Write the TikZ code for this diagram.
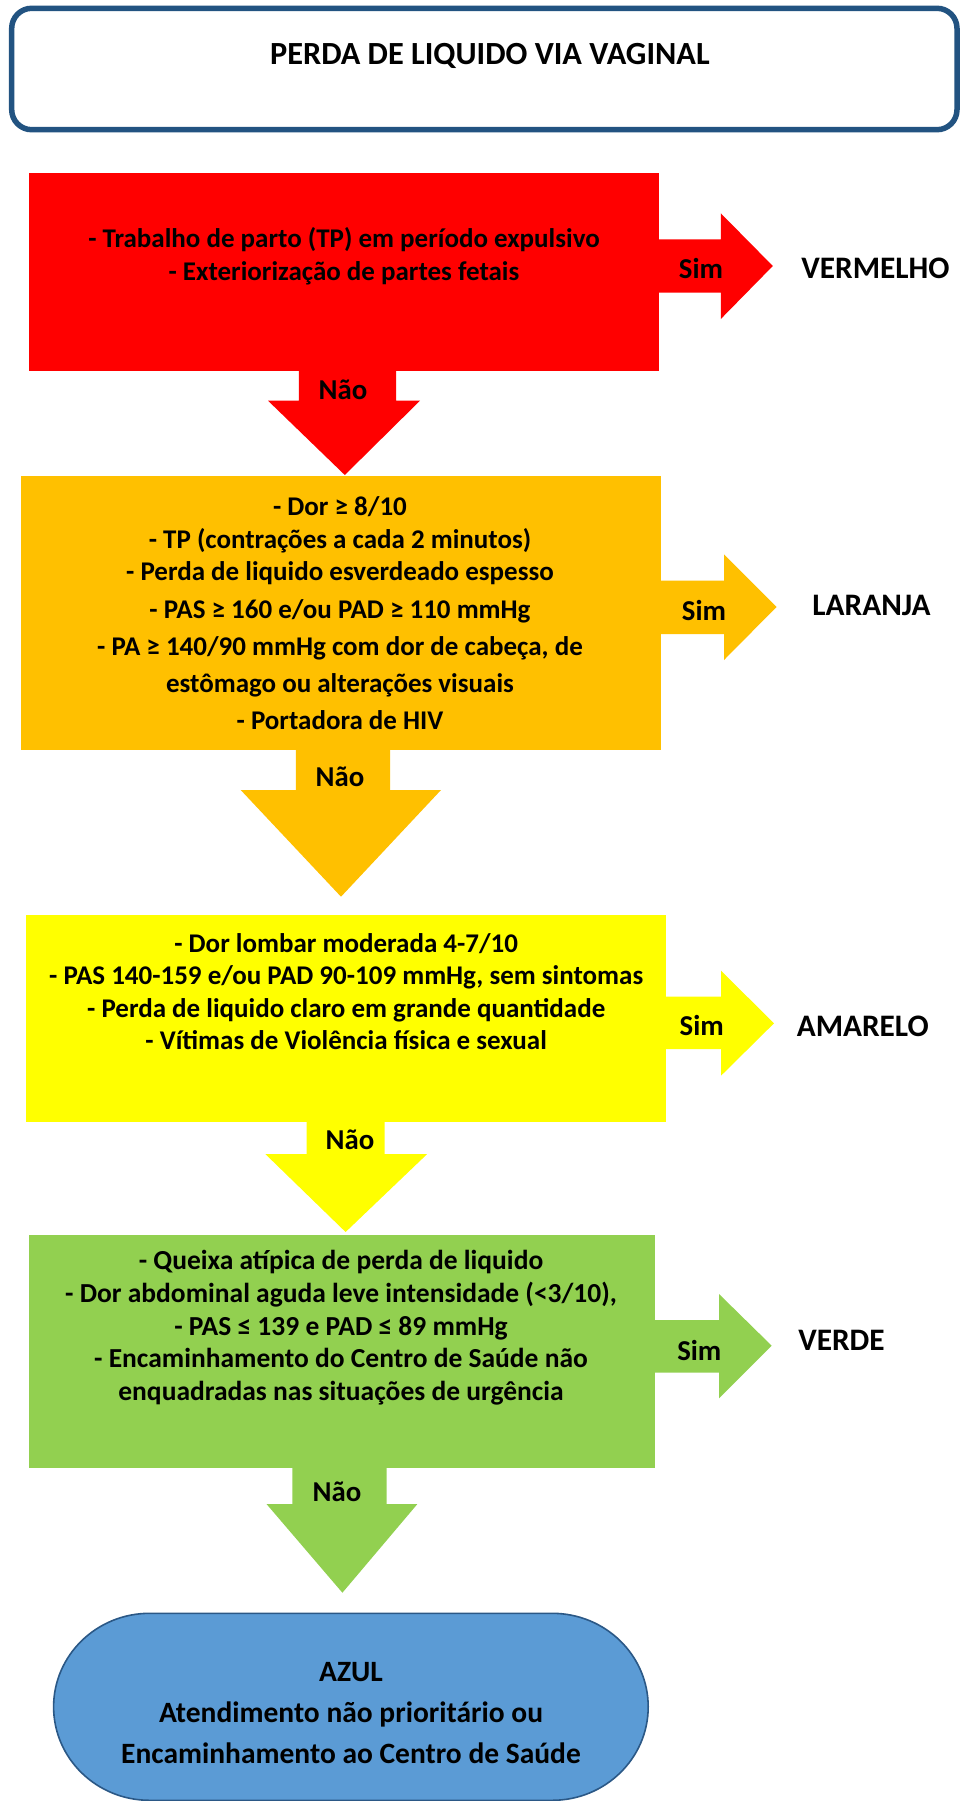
\documentclass[tikz,border=0pt]{standalone}
\usepackage{fontspec}
\setmainfont{Carlito}
\definecolor{redc}{HTML}{FF0000}
\definecolor{orangec}{HTML}{FFC000}
\definecolor{yellowc}{HTML}{FFFF00}
\definecolor{greenc}{HTML}{92D050}
\definecolor{bluec}{HTML}{5B9BD5}
\definecolor{titleline}{HTML}{225381}
\definecolor{blueline}{HTML}{2B5886}
\tikzset{
  stagebox/.style={inner sep=0pt, outer sep=0pt, draw=none},
  bodytext/.style={inner sep=0pt, align=center, font=\bfseries\fontsize{27}{32.5}\selectfont},
  answer/.style={inner sep=0pt, font=\bfseries\fontsize{28.8}{32}\selectfont},
  level/.style={inner sep=0pt, font=\bfseries\fontsize{31.3}{36}\selectfont},
}
\begin{document}
\begin{tikzpicture}[x=1pt,y=-1pt]
\useasboundingbox (0,0) rectangle (960,1801);
\fill[white] (0,0) rectangle (960,1801);

% title
\node[draw=titleline, line width=5.5pt, rounded corners=20pt, minimum width=945.3pt, minimum height=121.4pt, inner sep=0pt] (title) at (484.35,69) {};
\node[anchor=base, inner sep=0pt, font=\bfseries\fontsize{32.3}{36}\selectfont] (titletext) at (489.9,64.3) {PERDA DE LIQUIDO VIA VAGINAL};

% red
\node[stagebox, fill=redc, minimum width=630.2pt, minimum height=197.4pt] (red) at (343.9,272) {};
\fill[redc] (655,239.3) -- (720.8,239.3) -- (720.8,213.3) -- (772.8,266) -- (720.8,319) -- (720.8,292.7) -- (655,292.7) -- cycle;
\fill[redc] (298.8,366) -- (396.2,366) -- (396.2,400.7) -- (420,400.7) -- (344.8,475) -- (268,400.7) -- (298.8,400.7) -- cycle;
\node[bodytext] (redtext) at (344,256) {- Trabalho de parto (TP) em período expulsivo\\- Exteriorização de partes fetais};
\node[answer] (redsim) at (701,268) {Sim};
\node[level] (redlevel) at (875.5,268) {VERMELHO};
\node[answer] (rednao) at (343,390) {Não};

% orange
\node[stagebox, fill=orangec, minimum width=640pt, minimum height=274.3pt] (orange) at (341.4,612.85) {};
\fill[orangec] (657,580.7) -- (724,580.7) -- (724,554.3) -- (776.5,607) -- (724,660) -- (724,634) -- (657,634) -- cycle;
\fill[orangec] (295.8,746) -- (390,746) -- (390,790) -- (441,790) -- (341,896.7) -- (240.7,790) -- (295.8,790) -- cycle;
\node[bodytext] (orangetext) at (340,613.3) {- Dor ≥ 8/10\\- TP (contrações a cada 2 minutos)\\- Perda de liquido esverdeado espesso\\[4.6pt]- PAS ≥ 160 e/ou PAD ≥ 110 mmHg\\[4.6pt]- PA ≥ 140/90 mmHg com dor de cabeça, de\\[4.6pt]estômago ou alterações visuais\\[4.6pt]- Portadora de HIV};
\node[answer] (orangesim) at (704,610) {Sim};
\node[level] (orangelevel) at (871.5,605) {LARANJA};
\node[answer] (orangenao) at (340,776.7) {Não};

% yellow
\node[stagebox, fill=yellowc, minimum width=639.7pt, minimum height=207.3pt] (yellow) at (346.15,1018.65) {};
\fill[yellowc] (662,996.5) -- (721,996.5) -- (721,970.7) -- (774,1023.3) -- (721,1075.7) -- (721,1049) -- (662,1049) -- cycle;
\fill[yellowc] (306.6,1118) -- (384.7,1118) -- (384.7,1154) -- (427.2,1154) -- (345.6,1232) -- (265.3,1154) -- (306.6,1154) -- cycle;
\node[bodytext] (yellowtext) at (346.2,991.7) {- Dor lombar moderada 4-7/10\\- PAS 140-159 e/ou PAD 90-109 mmHg, sem sintomas\\- Perda de liquido claro em grande quantidade\\- Vítimas de Violência física e sexual};
\node[answer] (yellowsim) at (701.7,1025) {Sim};
\node[level] (yellowlevel) at (862.8,1026) {AMARELO};
\node[answer] (yellownao) at (350,1140) {Não};

% green
\node[stagebox, fill=greenc, minimum width=625.7pt, minimum height=232.5pt] (green) at (342.15,1351.25) {};
\fill[greenc] (651,1320) -- (719,1320) -- (719,1294) -- (771.7,1345.7) -- (719,1398.3) -- (719,1372.7) -- (651,1372.7) -- cycle;
\fill[greenc] (292.4,1463) -- (386.6,1463) -- (386.6,1504) -- (417.4,1504) -- (342.4,1592.7) -- (266.5,1504) -- (292.4,1504) -- cycle;
\node[bodytext, font=\bfseries\fontsize{27.5}{32.75}\selectfont] (greentext) at (341,1327.8) {- Queixa atípica de perda de liquido\\- Dor abdominal aguda leve intensidade (<3/10),\\- PAS ≤ 139 e PAD ≤ 89 mmHg\\- Encaminhamento do Centro de Saúde não\\enquadradas nas situações de urgência};
\node[answer] (greensim) at (699.3,1350) {Sim};
\node[level] (greenlevel) at (841.5,1340) {VERDE};
\node[answer] (greennao) at (337,1491.7) {Não};

% blue terminator
\path[fill=bluec, draw=blueline, line width=1.6pt]
  (149.6,1613.3) -- (552.2,1613.3)
  .. controls (605.2,1613.3) and (648.2,1655.2) .. (648.2,1706.8)
  .. controls (648.2,1758.4) and (605.2,1800.3) .. (552.2,1800.3)
  -- (149.6,1800.3)
  .. controls (96.6,1800.3) and (53.6,1758.4) .. (53.6,1706.8)
  .. controls (53.6,1655.2) and (96.6,1613.3) .. (149.6,1613.3) -- cycle;
\node[inner sep=0pt, align=center, font=\bfseries\fontsize{29.5}{41}\selectfont] (bluetext) at (351,1713.3) {AZUL\\Atendimento não prioritário ou\\Encaminhamento ao Centro de Saúde};
\end{tikzpicture}
\end{document}
